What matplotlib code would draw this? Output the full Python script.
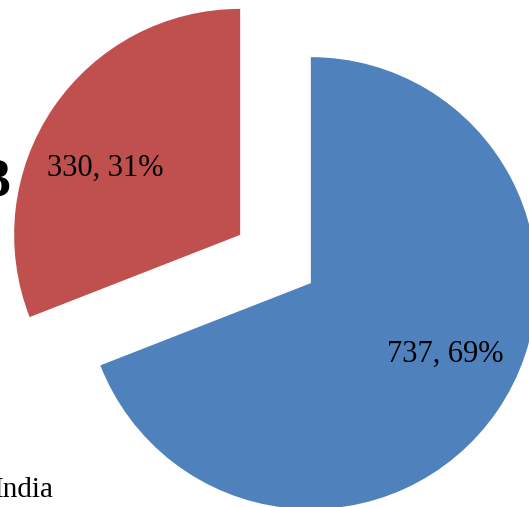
import matplotlib.pyplot as plt

# donnees
categories = ['India', 'Other']
values = [737, 330]
colors = ['#4F81BD', '#C0504D']

W, H = 529, 507
fig = plt.figure(figsize=(W / 100, H / 100), dpi=100)
ax = fig.add_axes([0, 0, 1, 1])

# camembert eclate (unites = pixels)
wedges, texts = ax.pie(values, colors=colors, startangle=90, counterclock=False,
                       radius=226, center=(275.5, 248), explode=[42.8, 42.8],
                       frame=True, labels=['', ''])

total = sum(values)
lbls = ['%d, %d%%' % (v, round(100 * v / total)) for v in values]
pos = [(445, 153), (105, 339)]  # position des etiquettes (style Excel)
for t, s, p in zip(texts, lbls, pos):
    t.set_text(s)
    t.set_position(p)
    t.set_ha('center')
    t.set_va('center')
    t.set_fontsize(22)
    t.set_family('Liberation Serif')

# restes du titre et de la legende coupes
ax.text(11, 324, '3', fontsize=39, fontweight='bold', family='Liberation Serif',
        ha='right', va='center')
ax.text(-6, 17, categories[0], fontsize=21, family='Liberation Serif',
        ha='left', va='center')

ax.set_xlim(0, W)
ax.set_ylim(0, H)
ax.axis('off')
fig.savefig('out.png', dpi=100)
